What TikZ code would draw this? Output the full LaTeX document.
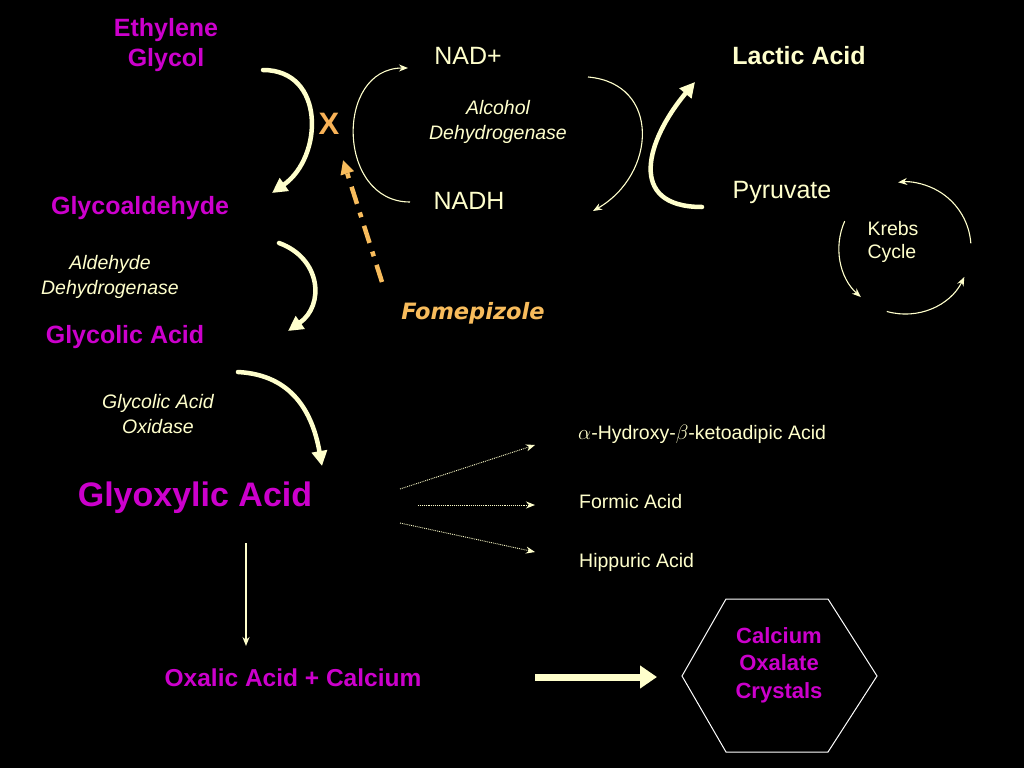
\documentclass[tikz,border=0pt]{standalone}
\usepackage{fontspec}
\setmainfont{Liberation Sans}
\newfontfamily\fomefont{DejaVu Sans}
\usepackage{amsmath}
\usetikzlibrary{scopes,positioning,arrows.meta}

\definecolor{chemmag}{RGB}{204,0,204}
\definecolor{cream}{RGB}{255,255,204}
\definecolor{fomeorange}{RGB}{248,188,92}

\begin{document}
\begin{tikzpicture}[x=1pt,y=1pt,
    chem/.style={font=\bfseries\fontsize{25}{30}\selectfont,text=chemmag,align=center},
    enzyme/.style={font=\itshape\fontsize{19.5}{24.5}\selectfont,text=cream,align=center},
    cofactor/.style={font=\fontsize{25}{30}\selectfont,text=cream},
    product/.style={font=\fontsize{19.5}{23}\selectfont,text=cream,anchor=west,inner sep=0pt},
    thick arrow/.style={draw=cream,line width=4.5pt,line cap=round,-{Triangle[length=15pt,width=15pt]}},
    thin arrow/.style={draw=cream,line width=1.1pt,-{Stealth[length=9pt,width=7pt]}},
    side arrow/.style={draw=cream,line width=0.9pt,densely dotted,-{Stealth[length=9pt,width=7pt]}},
]

    % background
    \fill[black] (0,0) rectangle (1024,-768);

    %%%

    % Main pathway
    \node[chem] (eg) at (166,-45) {Ethylene\\Glycol};
    \node[chem] (gald) at (140,-208) {Glycoaldehyde};
    \node[enzyme] (aldh) at (110,-277) {Aldehyde\\Dehydrogenase};
    \node[chem] (gla) at (125,-337) {Glycolic Acid};
    \node[enzyme] (gao) at (158,-414) {Glycolic Acid\\Oxidase};
    \node[chem,font=\bfseries\fontsize{34}{40}\selectfont] (gxa) at (195,-498) {Glyoxylic Acid};
    \node[chem,font=\bfseries\fontsize{24.5}{28}\selectfont] (oxa) at (293,-678) {Oxalic Acid + Calcium};
    \node[chem,font=\bfseries\fontsize{22}{27.5}\selectfont] (cox) at (779,-665) {Calcium\\Oxalate\\ Crystals};

    % Alcohol dehydrogenase cofactors
    \node[cofactor] (nad) at (468,-56) {NAD+};
    \node[enzyme] (adh) at (498,-122) {Alcohol\\Dehydrogenase};
    \node[cofactor] (nadh) at (469,-201) {NADH};
    \node[cofactor,font=\bfseries\fontsize{25}{30}\selectfont] (lac) at (799,-56) {Lactic Acid};
    \node[cofactor] (pyr) at (782,-192) {Pyruvate};
    \node[font=\fontsize{19.5}{23}\selectfont,text=cream,align=left,anchor=west] (krebs) at (864,-242) {Krebs\\Cycle};

    % Inhibitor
    \node[font=\fomefont\bfseries\itshape\fontsize{22.5}{27}\selectfont,text=fomeorange] (fome) at (473,-313) {Fomepizole};
    \node[font=\bfseries\fontsize{31}{31}\selectfont,text=fomeorange!95!red] (block) at (329,-124) {X};

    % Side products
    \node[product] (hka) at (578,-434) {$\alpha$-Hydroxy-$\beta$-ketoadipic Acid};
    \node[product] (fa) at (579,-502) {Formic Acid};
    \node[product] (ha) at (579,-562) {Hippuric Acid};

    % arrow ends
    \coordinate (eg-s) at (263,-70);
    \coordinate (eg-e) at (272,-193);
    \coordinate (ald-s) at (279,-243);
    \coordinate (ald-e) at (288,-331);
    \coordinate (gao-s) at (238,-372);
    \coordinate (gao-e) at (322,-466);
    \coordinate (gxa-s) at (246,-543);
    \coordinate (oxa-n) at (246,-646);
    \coordinate (oxa-e) at (535,-677);
    \coordinate (cox-w) at (657,-677);
    \coordinate (nadh-w) at (410,-202);
    \coordinate (nad-w) at (408,-68);
    \coordinate (adh-s) at (588,-77);
    \coordinate (adh-e) at (593,-211);
    \coordinate (pyr-w) at (702,-207);
    \coordinate (lac-w) at (695,-82);
    \coordinate (fome-s) at (382,-282);
    \coordinate (fome-e) at (343,-160);
    \coordinate (gxa-ne) at (400,-489);
    \coordinate (gxa-ee) at (418,-505);
    \coordinate (gxa-se) at (400,-523);
    \coordinate (hka-w) at (535,-445);
    \coordinate (fa-w) at (535,-505);
    \coordinate (ha-w) at (535,-552);
    \coordinate (kc) at (905,-248);

    % Pathway arrows
    {[thick arrow]
        \draw (eg-s) to[out=0,in=35,looseness=1.3] (eg-e);
        \draw (ald-s) to[out=-20,in=35,looseness=1.3] (ald-e);
        \draw (gao-s) to[out=-3,in=100,looseness=1.1] (gao-e);
        \draw (pyr-w) to[out=180,in=-130,looseness=1.55] (lac-w);
    }
    \draw[thin arrow,line width=1.5pt] (gxa-s) -- (oxa-n);
    \draw[draw=cream,line width=7pt,-{Triangle[length=17pt,width=22pt]}] (oxa-e) -- (cox-w);

    % Cofactor cycles
    {[thin arrow]
        \draw (nadh-w) to[out=180,in=180,looseness=1.4] (nad-w);
        \draw (adh-s) to[out=-5,in=30,looseness=1.4] (adh-e);
        \draw (kc) ++(4:66) arc (4:96:66);
        \draw (kc) ++(156:66) arc (156:228:66);
        \draw (kc) ++(254:66) arc (254:334:66);
    }

    % Fomepizole blocks alcohol dehydrogenase
    \draw[draw=fomeorange,line width=4.5pt,dash pattern=on 18pt off 9pt on 5pt off 9pt,
          -{Triangle[length=14pt,width=13pt]}] (fome-s) -- (fome-e);

    % Minor routes from glyoxylic acid
    {[side arrow]
        \draw (gxa-ne) -- (hka-w);
        \draw (gxa-ee) -- (fa-w);
        \draw (gxa-se) -- (ha-w);
    }

    % Crystals
    \draw[white,line width=1pt] (726,-599) -- (828,-599) -- (877,-676) -- (828,-752)
        -- (726,-752) -- (682,-676) -- cycle;

\end{tikzpicture}
\end{document}
